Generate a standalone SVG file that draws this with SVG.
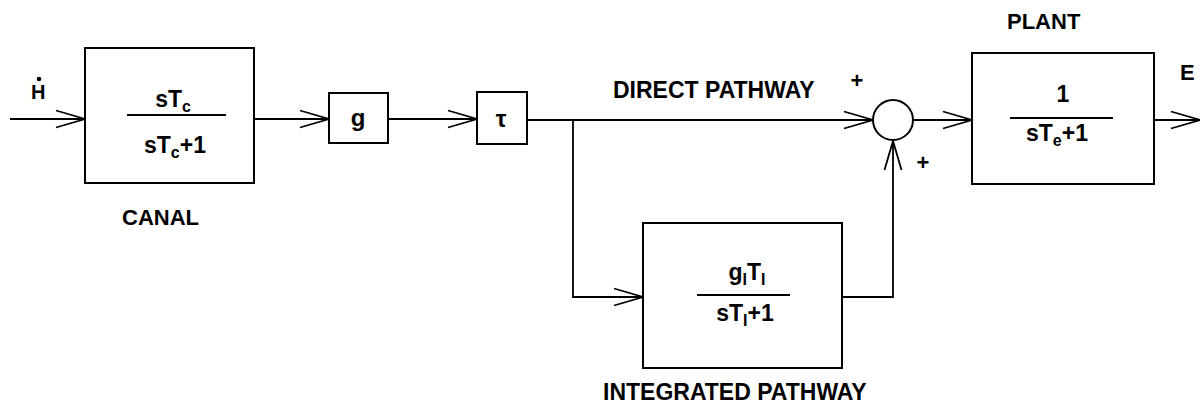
<svg xmlns="http://www.w3.org/2000/svg" width="1200" height="405" viewBox="0 0 1200 405">
<defs>
<marker id="chev" markerUnits="userSpaceOnUse" markerWidth="40" markerHeight="24" viewBox="-32 -12 40 24" refX="0" refY="0" orient="auto" overflow="visible">
<path d="M-29,-8.5 L0,0 L-29,8.5" fill="none" stroke="#000" stroke-width="1.8"/>
</marker>
<style>
.box{fill:#fff;stroke:#000;stroke-width:2}
.wire{fill:none;stroke:#000;stroke-width:1.8}
.lbl{font-family:"Liberation Sans",Arial,sans-serif;font-weight:bold;font-size:22px;fill:#000}
.big{font-size:23px}
.frac{font-family:"Liberation Sans",Arial,sans-serif;font-weight:bold;font-size:23px;fill:#000;text-anchor:middle}
.sub{font-size:16px}
.bar{stroke:#000;stroke-width:2}
.sign{font-family:"Liberation Sans",Arial,sans-serif;font-weight:bold;font-size:22px;fill:#000;text-anchor:middle}
</style>
</defs>
<rect width="1200" height="405" fill="#fff"/>

<g id="connectors">
<path class="wire" d="M10,119 L85,119" marker-end="url(#chev)"/>
<path class="wire" d="M254,119 L329,119" marker-end="url(#chev)"/>
<path class="wire" d="M388,119 L477,119" marker-end="url(#chev)"/>
<path class="wire" d="M527,120 L873,120" marker-end="url(#chev)"/>
<path class="wire" d="M573,120 L573,297 L643,297" marker-end="url(#chev)"/>
<path class="wire" d="M842,297 L893,297 L893,141" marker-end="url(#chev)"/>
<path class="wire" d="M913,120 L972,120" marker-end="url(#chev)"/>
<path class="wire" d="M1154,120 L1200,120" marker-end="url(#chev)"/>
</g>

<g id="input">
<text class="lbl" x="31" y="99" style="font-size:20px">H</text>
<circle cx="39" cy="79" r="2.3" fill="#000"/>
</g>

<g id="canal">
<rect class="box" x="85" y="48" width="169" height="135"/>
<text class="frac" x="173" y="107">sT<tspan class="sub" dy="5">c</tspan></text>
<line class="bar" x1="127" y1="115" x2="226" y2="115"/>
<text class="frac" x="175" y="153">sT<tspan class="sub" dy="5">c</tspan><tspan dy="-5">+1</tspan></text>
<text class="lbl" x="122" y="225">CANAL</text>
</g>

<g id="gain">
<rect class="box" x="329" y="93" width="59" height="50"/>
<text class="frac" x="358" y="126" style="font-size:24px">g</text>
</g>

<g id="delay">
<rect class="box" x="477" y="92" width="50" height="52"/>
<text class="frac" x="501" y="127" style="font-size:24px">τ</text>
</g>

<g id="direct-label">
<text class="lbl big" x="613" y="98">DIRECT PATHWAY</text>
</g>

<g id="sum">
<circle cx="893" cy="120" r="20" fill="#fff" stroke="#000" stroke-width="2"/>
<text class="sign" x="857" y="88">+</text>
<text class="sign" x="923" y="170">+</text>
</g>

<g id="integrated">
<rect class="box" x="643" y="223" width="199" height="145"/>
<text class="frac" x="747" y="280">g<tspan class="sub" dy="5">I</tspan><tspan dy="-5">T</tspan><tspan class="sub" dy="5">I</tspan></text>
<line class="bar" x1="697" y1="295" x2="790" y2="295"/>
<text class="frac" x="745" y="321">sT<tspan class="sub" dy="5">I</tspan><tspan dy="-5">+1</tspan></text>
<text class="lbl big" x="603" y="400">INTEGRATED PATHWAY</text>
</g>

<g id="plant">
<rect class="box" x="972" y="53" width="182" height="131"/>
<text class="frac" x="1063" y="102">1</text>
<line class="bar" x1="1010" y1="118" x2="1113" y2="118"/>
<text class="frac" x="1057" y="141">sT<tspan class="sub" dy="5">e</tspan><tspan dy="-5">+1</tspan></text>
<text class="lbl" x="1007" y="29">PLANT</text>
</g>

<g id="output">
<text class="lbl" x="1180" y="80">E</text>
</g>
</svg>
